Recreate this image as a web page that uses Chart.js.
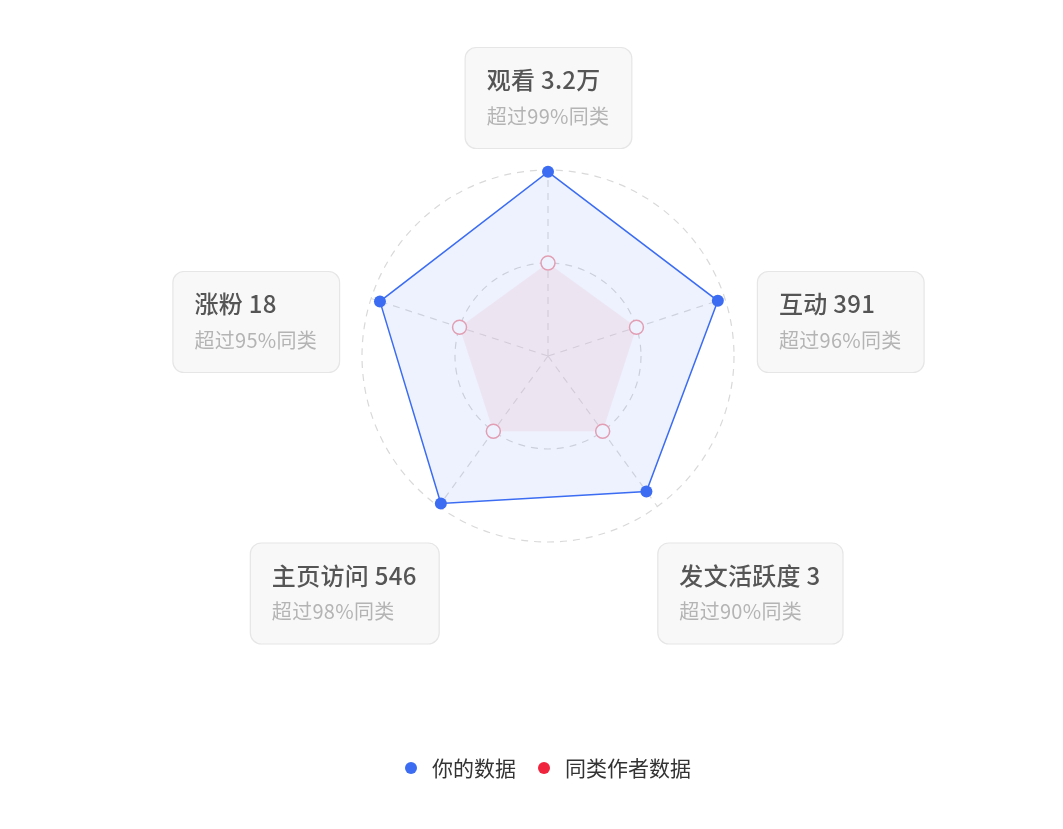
<!DOCTYPE html>
<html>
<head>
<meta charset="utf-8">
<script src="https://cdn.jsdelivr.net/npm/chart.js@4/dist/chart.umd.min.js"></script>
<style>
    html, body { margin: 0; padding: 0; background: #fff; }
    #wrap { position: relative; width: 1063px; height: 829px; }
</style>
</head>
<body>
<div id="wrap"><canvas id="radar"></canvas></div>
<script>
// Radar axes and what is shown in each label box
const indicators = ['观看', '互动', '发文活跃度', '主页访问', '涨粉'];
const metricValues = ['3.2万', '391', '3', '546', '18'];
const yourPercentile = [99, 96, 90, 98, 95];
const peerPercentile = [50, 50, 50, 50, 50];
const seriesNames = ['你的数据', '同类作者数据'];

const BLUE = '#3b6cf2';
const RED = '#f0243c';
const FONT = '"Noto Sans CJK SC", "Noto Sans", sans-serif';

function roundRect(ctx, x, y, w, h, r) {
    ctx.beginPath();
    ctx.moveTo(x + r, y);
    ctx.arcTo(x + w, y, x + w, y + h, r);
    ctx.arcTo(x + w, y + h, x, y + h, r);
    ctx.arcTo(x, y + h, x, y, r);
    ctx.arcTo(x, y, x + w, y, r);
    ctx.closePath();
}

// Boxed axis labels: name + value, then percentile line
const boxLabels = {
    id: 'boxLabels',
    afterDraw(chart) {
        const scale = chart.scales.r;
        const ctx = chart.ctx;
        const cx = scale.xCenter, cy = scale.yCenter;
        const titleFont = `500 24px ${FONT}`;
        const subFont = `20px ${FONT}`;
        ctx.save();
        if ('letterSpacing' in ctx) ctx.letterSpacing = '0.3px';
        indicators.forEach((name, i) => {
            const end = scale.getPointPosition(i, scale.drawingArea);
            const title = `${name} ${metricValues[i]}`;
            const sub = `超过${yourPercentile[i]}%同类`;

            ctx.font = titleFont;
            const tw = ctx.measureText(title).width;
            ctx.font = subFont;
            const sw = ctx.measureText(sub).width;
            const w = Math.max(tw, sw) + 44;
            const h = 101;

            const dx = end.x - cx, dy = end.y - cy;
            let x, y;
            if (Math.abs(dx) < 1) {
                x = end.x - w / 2;
                y = dy < 0 ? end.y - 22 - h : end.y + 36;
            } else if (dy < 0) {
                x = dx > 0 ? end.x + 32 : end.x - 32 - w;
                y = end.y + 23 - h / 2;
            } else {
                x = dx > 0 ? end.x : end.x - w;
                y = end.y + 36;
            }

            roundRect(ctx, x + 0.5, y + 0.5, w, h, 11);
            ctx.fillStyle = '#f8f8f8';
            ctx.fill();
            ctx.strokeStyle = '#e6e6e6';
            ctx.lineWidth = 1.2;
            ctx.stroke();

            ctx.textAlign = 'left';
            ctx.textBaseline = 'middle';
            ctx.fillStyle = '#555555';
            ctx.font = titleFont;
            ctx.fillText(title, x + 22, y + 33);
            ctx.fillStyle = '#b4b4b4';
            ctx.font = subFont;
            ctx.fillText(sub, x + 22, y + 69);
        });
        ctx.restore();
    }
};

// Legend drawn below the radar, centred on it
const bottomLegend = {
    id: 'bottomLegend',
    afterDraw(chart) {
        const ctx = chart.ctx;
        const cx = chart.scales.r.xCenter;
        const colors = [BLUE, RED];
        const y = 768;
        ctx.save();
        ctx.font = `21px ${FONT}`;
        ctx.textBaseline = 'middle';
        ctx.textAlign = 'left';
        const dot = 6, gapText = 15, gapItem = 22;
        const widths = seriesNames.map(s => dot * 2 + gapText + ctx.measureText(s).width);
        const total = widths.reduce((a, b) => a + b, 0) + gapItem * (widths.length - 1);
        let x = cx - total / 2;
        seriesNames.forEach((s, i) => {
            ctx.beginPath();
            ctx.arc(x + dot, y, dot, 0, Math.PI * 2);
            ctx.fillStyle = colors[i];
            ctx.fill();
            ctx.fillStyle = '#333333';
            ctx.fillText(s, x + dot * 2 + gapText, y);
            x += widths[i] + gapItem;
        });
        ctx.restore();
    }
};

const ctx = document.getElementById('radar');
new Chart(ctx, {
    type: 'radar',
    data: {
        labels: indicators,
        datasets: [
            {
                label: seriesNames[0],
                data: yourPercentile,
                borderColor: BLUE,
                backgroundColor: 'rgba(59, 108, 242, 0.09)',
                borderWidth: 1.5,
                fill: true,
                pointRadius: 6,
                pointBackgroundColor: BLUE,
                pointBorderColor: BLUE,
                pointBorderWidth: 0
            },
            {
                label: seriesNames[1],
                data: peerPercentile,
                borderColor: 'rgba(0, 0, 0, 0)',
                borderWidth: 0,
                backgroundColor: 'rgba(255, 195, 205, 0.25)',
                fill: true,
                pointRadius: 7,
                pointBackgroundColor: '#ffffff',
                pointBorderColor: '#f3a3ad',
                pointBorderWidth: 1.5
            }
        ]
    },
    options: {
        responsive: true,
        maintainAspectRatio: false,
        animation: false,
        layout: {
            padding: { left: 362, right: 329, top: 170, bottom: 287 }
        },
        plugins: {
            legend: { display: false },
            tooltip: { enabled: false }
        },
        scales: {
            r: {
                min: 0,
                max: 100,
                ticks: { display: false, stepSize: 50 },
                pointLabels: { display: false },
                grid: {
                    circular: true,
                    color: '#d9d9d9',
                    lineWidth: 1.2
                },
                border: { dash: [7, 6] },
                angleLines: {
                    color: '#dcdcdc',
                    lineWidth: 1.2,
                    borderDash: [7, 6]
                }
            }
        }
    },
    plugins: [boxLabels, bottomLegend]
});
</script>
</body>
</html>
